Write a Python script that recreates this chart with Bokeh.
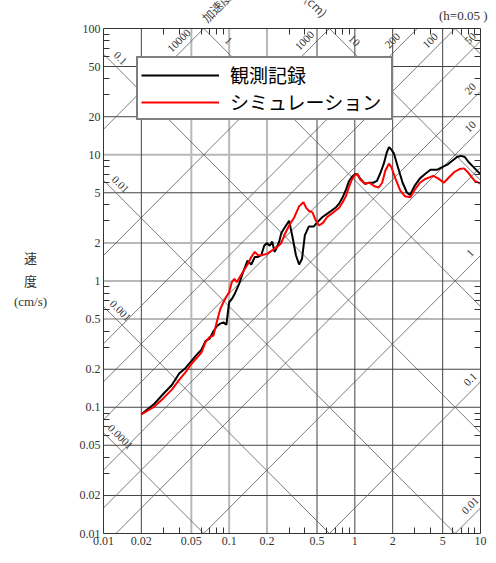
import math
from bokeh.plotting import figure
from bokeh.models import FixedTicker, LogAxis, Legend, LegendItem, Range1d
from bokeh.embed import file_html
from bokeh.resources import INLINE
from bokeh.core.properties import value

# ---------------- data ----------------
x_ticks = [0.01, 0.02, 0.05, 0.1, 0.2, 0.5, 1, 2, 5, 10]
x_tick_labels = ["0.01", "0.02", "0.05", "0.1", "0.2", "0.5", "1", "2", "5", "10"]
y_ticks = [0.01, 0.02, 0.05, 0.1, 0.2, 0.5, 1, 2, 5, 10, 20, 50, 100]
y_tick_labels = ["0.01", "0.02", "0.05", "0.1", "0.2", "0.5", "1", "2", "5", "10", "20", "50", "100"]

# acceleration lines (gal) and displacement lines (cm)
accel_lines = [0.01, 0.1, 1, 5, 10, 20, 50, 100, 200, 1000, 10000]
accel_labels = [10000, 1000, 200, 100, 50, 20, 10, 1, 0.1, 0.01]
disp_lines = [0.0001, 0.001, 0.01, 0.1, 1, 10, 100]
disp_labels = [0.1, 0.01, 0.001, 0.0001, 1, 10]

# observed record (観測記録): period (s), velocity (cm/s)
obs_period = [0.02, 0.025, 0.03, 0.035, 0.04, 0.045, 0.05, 0.055, 0.06, 0.065,
              0.07, 0.075, 0.08, 0.085, 0.09, 0.095, 0.1, 0.105, 0.11, 0.12,
              0.13, 0.14, 0.15, 0.16, 0.17, 0.18, 0.19, 0.2, 0.21, 0.22,
              0.23, 0.24, 0.25, 0.26, 0.28, 0.3, 0.32, 0.34, 0.36, 0.38,
              0.4, 0.43, 0.47, 0.5, 0.55, 0.6, 0.65, 0.7, 0.75, 0.8,
              0.85, 0.9, 0.95, 1.0, 1.05, 1.1, 1.2, 1.3, 1.4, 1.5,
              1.6, 1.7, 1.8, 1.87, 1.95, 2.05, 2.2, 2.4, 2.6, 2.75,
              3.0, 3.3, 3.6, 4.0, 4.5, 5.0, 5.5, 6.0, 6.5, 7.0,
              7.5, 8.0, 9.0, 10.0]
obs_sv = [0.088, 0.105, 0.128, 0.150, 0.185, 0.205, 0.232, 0.26, 0.285, 0.335,
          0.35, 0.40, 0.44, 0.46, 0.47, 0.45, 0.68, 0.72, 0.78, 0.95,
          1.2, 1.45, 1.35, 1.55, 1.55, 1.6, 1.9, 2.0, 1.9, 2.05,
          1.7, 1.85, 2.05, 2.4, 2.7, 3.0, 2.2, 1.6, 1.35, 1.5,
          2.3, 2.7, 2.7, 2.9, 3.2, 3.4, 3.6, 3.8, 4.1, 4.6,
          5.3, 6.2, 6.7, 7.0, 7.0, 6.5, 5.9, 6.0, 6.0, 6.2,
          7.2, 8.5, 10.5, 11.5, 11.0, 10.2, 8.0, 6.0, 5.0, 4.8,
          5.7, 6.5, 7.0, 7.6, 7.6, 8.0, 8.4, 9.0, 9.6, 9.8,
          9.6, 8.8, 7.8, 7.0]

# simulation (シミュレーション)
sim_period = [0.02, 0.025, 0.03, 0.035, 0.04, 0.045, 0.05, 0.055, 0.06, 0.065,
              0.07, 0.075, 0.08, 0.085, 0.09, 0.095, 0.1, 0.105, 0.11, 0.115,
              0.12, 0.13, 0.14, 0.15, 0.16, 0.17, 0.18, 0.2, 0.22, 0.24,
              0.26, 0.28, 0.3, 0.33, 0.36, 0.39, 0.41, 0.43, 0.46, 0.49,
              0.52, 0.56, 0.6, 0.65, 0.7, 0.75, 0.8, 0.85, 0.9, 0.95,
              1.0, 1.05, 1.1, 1.2, 1.3, 1.45, 1.55, 1.65, 1.75, 1.87,
              1.95, 2.1, 2.3, 2.5, 2.77, 3.0, 3.3, 3.6, 4.2, 4.6,
              5.1, 5.6, 6.2, 6.8, 7.4, 8.0, 9.0, 10.0]
sim_sv = [0.088, 0.100, 0.118, 0.138, 0.165, 0.19, 0.22, 0.245, 0.27, 0.33,
          0.36, 0.37, 0.48, 0.6, 0.68, 0.75, 0.82, 0.98, 1.04, 0.98,
          1.05, 1.2, 1.35, 1.55, 1.7, 1.6, 1.6, 1.64, 1.75, 1.85,
          2.0, 2.4, 2.75, 3.2, 3.9, 4.2, 3.8, 3.6, 3.5, 3.0,
          2.75, 2.9, 3.2, 3.4, 3.6, 3.8, 4.2, 4.7, 5.6, 6.4,
          6.9, 7.0, 6.4, 5.9, 6.0, 5.6, 5.5, 6.0, 7.5, 8.5,
          8.0, 6.5, 5.2, 4.7, 4.6, 5.3, 6.0, 6.4, 6.8, 6.5,
          6.0, 6.6, 7.3, 7.7, 7.8, 7.2, 6.2, 5.9]

# ---------------- layout constants ----------------
TWO_PI = 2 * math.pi
T_MIN, T_MAX = x_ticks[0], x_ticks[-1]
SV_MIN, SV_MAX = y_ticks[0], y_ticks[-1]
W, H = 494, 555                 # canvas
BOX_L, BOX_T = 103, 28          # chart box top-left in canvas pixels
PX_X = 377 / 3                  # pixels per decade (period)
PX_Y = 505 / 4                  # pixels per decade (velocity)


def tx(px):
    return 10 ** (math.log10(T_MIN) + (px - BOX_L) / PX_X)


def sy(py):
    return 10 ** (math.log10(SV_MAX) - (py - BOX_T) / PX_Y)


p = figure(width=W, height=H, x_axis_type="log", y_axis_type="log",
           x_range=Range1d(tx(0), tx(W)), y_range=Range1d(sy(H), sy(0)),
           x_axis_location=None, y_axis_location=None,
           output_backend="svg", toolbar_location=None, min_border=0)
p.title.visible = False
p.background_fill_color = "white"
p.border_fill_color = "white"
p.outline_line_color = None
p.grid.visible = False


def minor(decades):
    return [m * d for d in decades for m in (3, 4, 6, 7, 8, 9)]


x_minor = minor([0.01, 0.1, 1])
y_minor = minor([0.01, 0.1, 1, 10])

serif = "Liberation Serif"
jp = "Noto Sans CJK JP"


def make_axis(loc, bounds, ticks, minor_ticks, labels=None):
    ax = LogAxis(fixed_location=loc, bounds=bounds,
                 ticker=FixedTicker(ticks=ticks, minor_ticks=minor_ticks))
    ax.axis_line_color = "#333333"
    ax.axis_line_width = 1
    ax.major_tick_in = 0
    ax.major_tick_out = 0
    ax.minor_tick_in = 6
    ax.minor_tick_out = 0
    ax.minor_tick_line_color = "#333333"
    ax.major_label_text_font = serif
    ax.major_label_text_color = "#333333"
    ax.major_label_text_font_size = "12px"
    ax.major_label_standoff = 3
    if labels is not None:
        ax.major_label_overrides = {t: s for t, s in labels}
    return ax


p.add_layout(make_axis(SV_MIN, (T_MIN, T_MAX), x_ticks, x_minor,
                       list(zip(x_ticks, x_tick_labels))), "below")
p.add_layout(make_axis(T_MIN, (SV_MIN, SV_MAX), y_ticks, y_minor,
                       list(zip(y_ticks, y_tick_labels))), "left")
p.add_layout(make_axis(SV_MAX, (T_MIN, T_MAX), [], x_minor), "above")
p.add_layout(make_axis(T_MAX, (SV_MIN, SV_MAX), [], y_minor), "right")

# grid lines (inside the chart box only)
light_x = [0.05, 0.1, 0.2]
dark_x = [t for t in x_ticks[1:-1] if t not in light_x]
light_y = [10, 2, 1, 0.5]
dark_y = [t for t in y_ticks[1:-1] if t not in light_y]
p.segment(x0=light_x, y0=[SV_MIN] * len(light_x), x1=light_x, y1=[SV_MAX] * len(light_x),
          line_color="#b8b8b8", line_width=2)
p.segment(x0=[T_MIN] * len(light_y), y0=light_y, x1=[T_MAX] * len(light_y), y1=light_y,
          line_color="#b8b8b8", line_width=2)
p.segment(x0=dark_x, y0=[SV_MIN] * len(dark_x), x1=dark_x, y1=[SV_MAX] * len(dark_x),
          line_color="#444444", line_width=1)
p.segment(x0=[T_MIN] * len(dark_y), y0=dark_y, x1=[T_MAX] * len(dark_y), y1=dark_y,
          line_color="#444444", line_width=1)

# diagonal lines clipped to the chart box
acc_xs, acc_ys = [], []
for a in accel_lines:
    lo = max(T_MIN, TWO_PI * SV_MIN / a)
    hi = min(T_MAX, TWO_PI * SV_MAX / a)
    if lo < hi:
        acc_xs.append([lo, hi])
        acc_ys.append([a * lo / TWO_PI, a * hi / TWO_PI])
p.multi_line(acc_xs, acc_ys, line_color="#5a5a5a", line_width=0.8)
dis_xs, dis_ys = [], []
for d in disp_lines:
    lo = max(T_MIN, TWO_PI * d / SV_MAX)
    hi = min(T_MAX, TWO_PI * d / SV_MIN)
    if lo < hi:
        dis_xs.append([lo, hi])
        dis_ys.append([TWO_PI * d / lo, TWO_PI * d / hi])
p.multi_line(dis_xs, dis_ys, line_color="#5a5a5a", line_width=0.8)

# diagonal labels
OFF = 10 ** 0.1
T_RIGHT = 8.3      # label position near the right edge
SV_TOP = 80.0      # label position near the top edge
T_LEFT = 0.0136    # label position near the left edge


def fmt(v):
    return ("%f" % v).rstrip("0").rstrip(".")


ax_, ay_, at_ = [], [], []
for a in accel_labels:
    t_top = TWO_PI * SV_TOP / a
    if t_top < T_RIGHT:
        ax_.append(t_top / OFF)
        ay_.append(SV_TOP)
    else:
        ax_.append(T_RIGHT)
        ay_.append(a * T_RIGHT / TWO_PI * OFF)
    at_.append(fmt(a))
p.text(x=ax_, y=ay_, text=at_, angle=math.pi / 4, text_align="center",
       text_baseline="middle", text_font=value(serif), text_font_size="11px",
       text_color="#333333")

dx_, dy_, dt_ = [], [], []
for d in disp_labels:
    t_top = TWO_PI * d / SV_TOP
    if t_top > T_LEFT:
        dx_.append(t_top * OFF)
        dy_.append(SV_TOP)
    else:
        dx_.append(T_LEFT)
        dy_.append(TWO_PI * d / T_LEFT * OFF)
    dt_.append(fmt(d))
p.text(x=dx_, y=dy_, text=dt_, angle=-math.pi / 4, text_align="center",
       text_baseline="middle", text_font=value(serif), text_font_size="11px",
       text_color="#333333")

# captions
p.text(x=[tx(487)], y=[sy(15)], text=["(h=0.05 )"], text_align="right",
       text_baseline="middle", text_font=value(serif), text_font_size="13px",
       text_color="#333333")
p.text(x=[tx(203)], y=[sy(19)], text=["加速度(gal)"], angle=math.pi / 4,
       text_align="left", text_baseline="middle", text_font=value(jp),
       text_font_size="12px", text_color="#444444")
p.text(x=[tx(325)], y=[sy(14)], text=["変位(cm)"], angle=-math.pi / 4,
       text_align="right", text_baseline="middle", text_font=value(jp),
       text_font_size="12px", text_color="#444444")
p.text(x=[tx(30), tx(30)], y=[sy(257), sy(280)], text=["速", "度"],
       text_align="center", text_baseline="middle", text_font=value(jp),
       text_font_size="13px", text_color="#333333")
p.text(x=[tx(30)], y=[sy(301)], text=["(cm/s)"], text_align="center",
       text_baseline="middle", text_font=value(serif), text_font_size="13px",
       text_color="#333333")

# spectra
r_obs = p.line(obs_period, obs_sv, line_color="black", line_width=2)
r_sim = p.line(sim_period, sim_sv, line_color="#ff0000", line_width=2)

legend = Legend(items=[LegendItem(label="観測記録", renderers=[r_obs]),
                       LegendItem(label="シミュレーション", renderers=[r_sim])],
                location=(136, H - 120))
legend.label_text_font = jp
legend.label_text_font_size = "19px"
legend.label_text_color = "black"
legend.glyph_width = 78
legend.glyph_height = 20
legend.label_height = 20
legend.label_standoff = 11
legend.spacing = 0
legend.padding = 3
legend.margin = 0
legend.border_line_color = "black"
legend.border_line_width = 2
legend.background_fill_color = "white"
legend.background_fill_alpha = 1
legend.label_width = 158
p.add_layout(legend, "center")

open("out.html", "w").write(file_html(p, INLINE))
